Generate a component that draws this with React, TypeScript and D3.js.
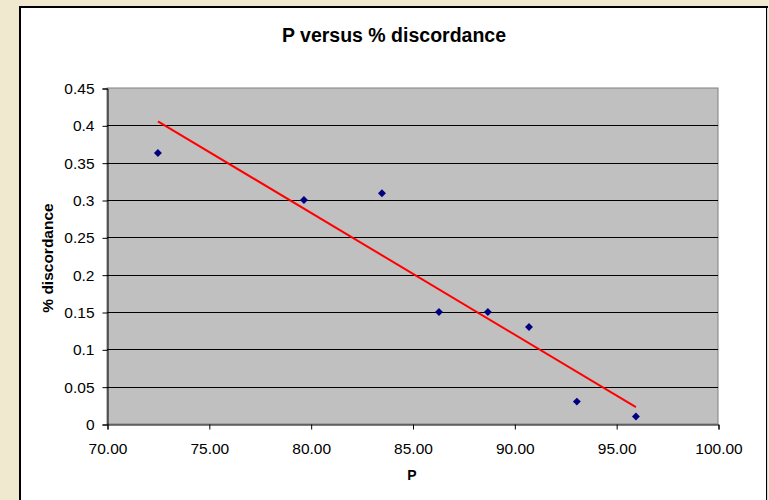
import React, { useEffect, useRef } from "react";
import * as d3 from "d3";

// values
const pValues = [72.5, 79.67, 83.5, 86.3, 88.7, 90.72, 93.07, 95.97];
const discordance = [0.363, 0.3, 0.309, 0.15, 0.15, 0.13, 0.03, 0.01];
const xTicks = [70, 75, 80, 85, 90, 95, 100];
const yTicks = [0, 0.05, 0.1, 0.15, 0.2, 0.25, 0.3, 0.35, 0.4, 0.45];

const W = 769, H = 500;
const plot = { left: 107, top: 88, right: 718, bottom: 424 };
const font = "Arial, 'Liberation Sans', sans-serif";

function App() {
    const ref = useRef<SVGSVGElement>(null);

    useEffect(() => {
        const svg = d3.select(ref.current);
        svg.selectAll("*").remove();

        const x = d3.scaleLinear().domain([70, 100]).range([plot.left, plot.right]);
        const y = d3.scaleLinear().domain([0, 0.45]).range([plot.bottom, plot.top]);

        // page background + chart frame
        svg.append("rect").attr("width", W).attr("height", H).attr("fill", "#F1E9CF");
        svg.append("rect")
            .attr("x", 20).attr("y", 7).attr("width", 747).attr("height", H)
            .attr("fill", "#fff").attr("stroke", "#000").attr("stroke-width", 2);
        svg.append("line")
            .attr("x1", 767.5).attr("x2", 767.5).attr("y1", 8).attr("y2", H)
            .attr("stroke", "#d8d8d8").attr("stroke-width", 1);

        // plot area
        svg.append("rect")
            .attr("x", plot.left).attr("y", plot.top)
            .attr("width", plot.right - plot.left).attr("height", plot.bottom - plot.top)
            .attr("fill", "#C0C0C0").attr("stroke", "#808080").attr("stroke-width", 1);

        // gridlines
        svg.append("g")
            .selectAll("line")
            .data(yTicks.filter(t => t > 0 && t < 0.45))
            .join("line")
            .attr("x1", plot.left).attr("x2", plot.right)
            .attr("y1", d => Math.round(y(d)) + 0.5).attr("y2", d => Math.round(y(d)) + 0.5)
            .attr("stroke", "#000").attr("stroke-width", 1);

        // y axis
        const gy = svg.append("g")
            .attr("transform", `translate(${plot.left + 0.5},0.5)`)
            .call(d3.axisLeft(y).tickValues(yTicks).tickSize(5).tickPadding(8)
                .tickFormat((d: any) => String(+d.toFixed(2))));
        gy.select(".domain").attr("stroke", "#000");
        gy.selectAll("text").attr("font-family", font).attr("font-size", 15.5).attr("fill", "#000");

        // x axis
        const gx = svg.append("g")
            .attr("transform", `translate(0.5,${plot.bottom + 0.5})`)
            .call(d3.axisBottom(x).tickValues(xTicks).tickSize(5).tickPadding(13)
                .tickFormat((d: any) => (+d).toFixed(2)));
        gx.select(".domain").attr("stroke", "#000");
        gx.selectAll("text").attr("font-family", font).attr("font-size", 15.5).attr("fill", "#000");

        // linear trendline (least squares of the points)
        const mx = d3.mean(pValues)!, my = d3.mean(discordance)!;
        const sxy = d3.sum(pValues, (p, i) => (p - mx) * (discordance[i] - my));
        const sxx = d3.sum(pValues, p => (p - mx) * (p - mx));
        const slope = sxy / sxx, icpt = my - slope * mx;
        const ext = d3.extent(pValues) as [number, number];
        svg.append("path")
            .datum(ext)
            .attr("fill", "none")
            .attr("stroke", "#FF0000")
            .attr("stroke-width", 2)
            .attr("d", d3.line<number>().x(d => x(d)).y(d => y(slope * d + icpt)));

        // markers
        svg.append("g")
            .selectAll("path")
            .data(pValues.map((p, i) => [p, discordance[i]]))
            .join("path")
            .attr("transform", d => `translate(${x(d[0])},${y(d[1])})`)
            .attr("d", d3.symbol(d3.symbolDiamond2, 40)())
            .attr("fill", "#000080");

        // titles
        svg.append("text")
            .attr("x", 394).attr("y", 42)
            .attr("text-anchor", "middle")
            .attr("font-family", font).attr("font-size", 19.5).attr("font-weight", "bold")
            .text("P versus % discordance");
        svg.append("text")
            .attr("x", 412).attr("y", 480)
            .attr("text-anchor", "middle")
            .attr("font-family", font).attr("font-size", 14).attr("font-weight", "bold")
            .text("P");
        svg.append("text")
            .attr("transform", `translate(53,258) rotate(-90)`)
            .attr("text-anchor", "middle")
            .attr("font-family", font).attr("font-size", 15.5).attr("font-weight", "bold")
            .text("% discordance");
    }, []);

    return (
        <svg ref={ref} width={W} height={H}
            style={{ position: "absolute", left: 0, top: 0, display: "block" }} />
    );
}

export default App;
